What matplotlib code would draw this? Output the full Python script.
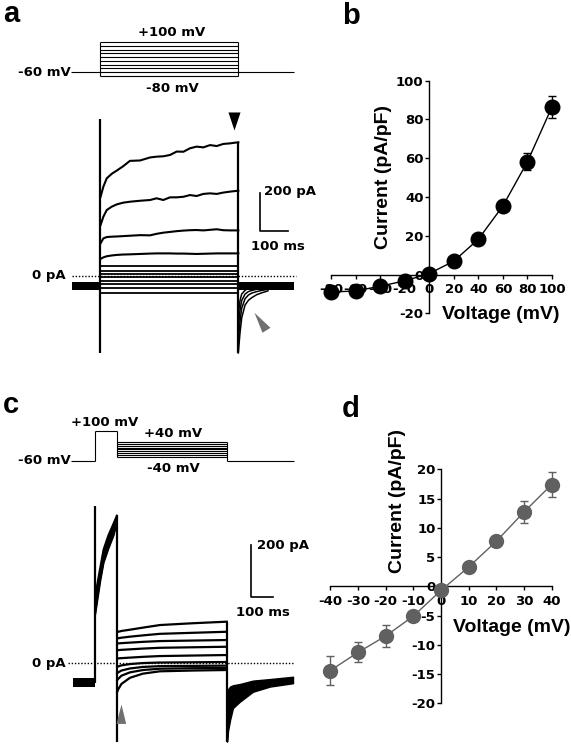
import matplotlib
matplotlib.use('Agg')
import matplotlib.pyplot as plt

W, H, DPI = 571, 746, 100
plt.rcParams['axes.unicode_minus'] = False
plt.rcParams['font.family'] = ['DejaVu Sans']
plt.rcParams['font.weight'] = 'bold'

# ---------------- data ----------------
# panel a protocol (mV) and timing (ms)
prot_a_levels = [-80, -60, -40, -20, 0, 20, 40, 60, 80, 100]
prot_a_hold = -60
prot_a_step = (0, 494)
prot_a_span = (-104, 693)

# panel a traces (pA vs ms)
t_a = [2, 12, 24, 42, 60, 83, 107, 143, 179, 202, 226, 250, 274, 298, 321, 345, 369, 393, 417, 440, 464, 494]
I_a_100 = [417, 470, 514, 538, 555, 578, 606, 608, 624, 628, 630, 637, 655, 654, 672, 681, 677, 689, 684, 695, 698, 704]
I_a_80 = [268, 312, 347, 365, 377, 386, 391, 396, 400, 409, 400, 414, 414, 417, 426, 421, 432, 435, 432, 439, 444, 449]
I_a_60 = [172, 198, 205, 207, 208, 210, 212, 215, 214, 222, 228, 232, 236, 239, 241, 242, 240, 243, 246, 241, 240, 240]
I_a_40 = [90, 98, 104, 108, 111, 113, 114, 116, 118, 119, 119, 119, 118, 118, 117, 116, 117, 118, 119, 119, 119, 119]
I_a_low_levels = [53, 26, 11, -5, -24, -42, -63, -87]
I_a_hold_band = (-74, -32)
I_a_cap = (-405, 826)
t_a_tail = [494, 500, 506, 518, 530, 542, 560, 577, 600]
I_a_tails = [
    [-405, -300, -221, -153, -128, -114, -98, -89, -78],
    [-340, -240, -170, -120, -100, -90, -82, -76, -70],
    [-270, -180, -130, -95, -82, -76, -70, -65, -60],
    [-200, -130, -95, -75, -65, -60, -56, -53, -50],
]
t_a_dot = (-100, 700)

# panel c protocol
prot_c_levels = [-40, -30, -20, -10, 0, 10, 20, 30, 40]
prot_c_hold = -60
prot_c_pre = 100
prot_c_times = (-109, 0, 100, 600, 905)

# panel c traces
t_c_pre = [0, 23, 38, 60, 83, 99]
I_c_pre_hi = [260, 370, 440, 495, 540, 572]
I_c_pre_lo = [190, 320, 390, 445, 495, 545]
I_c_hold_band = (-92, -57)
I_c_cap_top = 607
I_c_cap_low = -303
t_c_step = [101, 106, 120, 159, 218, 295, 445, 599]
I_c_steps = [
    [122, 122, 125, 130, 138, 148, 155, 161],
    [97, 97, 99, 103, 108, 114, 118, 122],
    [77, 77, 78, 80, 83, 86, 88, 90],
    [51, 51, 52, 54, 57, 60, 62, 64],
    [19, 19, 20, 22, 25, 28, 30, 32],
    [-13, -12, -8, -3, 1, 3, 4, 5],
    [-39, -35, -28, -20, -14, -11, -10, -9],
    [-65, -60, -48, -35, -26, -21, -19, -18],
    [-110, -100, -80, -56, -40, -31, -28, -26],
]
t_c_tail = [600, 605, 614, 627, 659, 718, 795, 900]
I_c_tail_hi = [-120, -100, -90, -85, -80, -67, -61, -52]
I_c_tail_lo = [-303, -260, -219, -173, -148, -110, -90, -77]
t_c_dot = (-123, 900)

# scale bars
bar_pA, bar_ms = 200, 100
bar_a_origin = (571, 237)
bar_c_origin = (708, 258)

# arrowheads (anchor positions in trace data units)
arrow_a_black = (479, 816)
arrow_a_gray = (579, -251)
arrow_c_gray = (118, -207)

# panel b IV
V_b = [-80, -60, -40, -20, 0, 20, 40, 60, 80, 100]
I_b = [-9, -8.5, -6, -3.3, 0.5, 6.9, 18.2, 35.4, 58.2, 86.5]
E_b = [1, 1, 1, 0.8, 0.5, 1, 1.5, 2, 4.5, 5.5]
xt_b = [-80, -60, -40, -20, 0, 20, 40, 60, 80, 100]
yt_b = [-20, 0, 20, 40, 60, 80, 100]

# panel d IV
V_d = [-40, -30, -20, -10, 0, 10, 20, 30, 40]
I_d = [-14.4, -11.3, -8.5, -5.1, -0.7, 3.3, 7.7, 12.7, 17.4]
E_d = [2.5, 1.7, 1.8, 0.7, 0.3, 0.5, 0.5, 1.85, 2.1]
xt_d = [-40, -30, -20, -10, 0, 10, 20, 30, 40]
yt_d = [-20, -15, -10, -5, 0, 5, 10, 15, 20]

# ---------------- figure ----------------
fig = plt.figure(figsize=(W / DPI, H / DPI), dpi=DPI)


def px_axes(x0, y0, x1, y1):
    return fig.add_axes([x0 / W, 1 - y1 / H, (x1 - x0) / W, (y1 - y0) / H])


def mapped_axes(x0, y0, x1, y1, xo, xs, yo, ys):
    ax = px_axes(x0, y0, x1, y1)
    ax.set_xlim((x0 - xo) / xs, (x1 - xo) / xs)
    ax.set_ylim((yo - y1) / ys, (yo - y0) / ys)
    ax.axis('off')
    return ax


def ftext(x, y, s, **kw):
    kw.setdefault('fontsize', 9.5)
    kw.setdefault('fontweight', 'bold')
    fig.text(x / W, 1 - y / H, s, **kw)


LIB = dict(family='Liberation Sans', fontweight='bold')
K = 'black'
PLW = 0.8
DOT = (0, (1, 1.3))

# ---- panel a protocol ----
pa = mapped_axes(55, 30, 300, 82, 100, 0.28, 60.9, 0.189)
pa.hlines(prot_a_levels, *prot_a_step, color=K, lw=PLW)
pa.vlines(prot_a_step, min(prot_a_levels), max(prot_a_levels), color=K, lw=PLW)
pa.hlines(prot_a_hold, prot_a_span[0], prot_a_step[0], color=K, lw=PLW)
pa.hlines(prot_a_hold, prot_a_step[1], prot_a_span[1], color=K, lw=PLW)

# ---- panel a traces ----
ta = mapped_axes(55, 100, 300, 360, 100, 0.28, 276, 0.19)
ta.hlines(0, *t_a_dot, color=K, lw=1, linestyles=[DOT])
ta.fill_between([prot_a_span[0] + 4, 0], *I_a_hold_band, color=K, lw=0)
ta.fill_between([prot_a_step[1], t_a_dot[1] - 7], *I_a_hold_band, color=K, lw=0)
for tr in (I_a_100, I_a_80, I_a_60, I_a_40):
    ta.plot(t_a, tr, color=K, lw=1.5)
ta.hlines(I_a_low_levels, 0, prot_a_step[1], color=K, lw=1.3)
for tr in I_a_tails:
    ta.plot(t_a_tail, tr, color=K, lw=1.1)
ta.vlines(0, *I_a_cap, color=K, lw=1.6)
ta.vlines(prot_a_step[1], I_a_cap[0], I_a_100[-1], color=K, lw=1.6)
# scale bar a
bx, by = bar_a_origin
ta.plot([bx, bx, bx + bar_ms], [by + bar_pA, by, by], color=K, lw=1.2)
# arrowheads a
ta.plot(*arrow_a_black, marker=[(-6, 9), (6, 9), (0, -9)], ms=13, color=K, mew=0)
ta.plot(*arrow_a_gray, marker=[(-8, 11.7), (8, -3.3), (0, -8.3)], ms=16.8,
        color='#707070', mew=0)

# ---- panel c protocol ----
pc = mapped_axes(55, 420, 300, 470, 95, 0.22, 449.45, 0.1875)
t0, t1, t2, t3, t4 = prot_c_times
pc.hlines(prot_c_hold, t0, t1, color=K, lw=PLW)
pc.vlines(t1, prot_c_hold, prot_c_pre, color=K, lw=PLW)
pc.hlines(prot_c_pre, t1, t2, color=K, lw=PLW)
pc.vlines(t2, min(prot_c_levels), prot_c_pre, color=K, lw=PLW)
pc.hlines(prot_c_levels, t2, t3, color=K, lw=PLW)
pc.vlines(t3, prot_c_hold, max(prot_c_levels), color=K, lw=PLW)
pc.hlines(prot_c_hold, t3, t4, color=K, lw=PLW)

# ---- panel c traces ----
tc = mapped_axes(55, 490, 300, 746, 95, 0.22, 663.3, 0.2585)
tc.hlines(0, *t_c_dot, color=K, lw=1, linestyles=[DOT])
tc.fill_between([-100, 0], *I_c_hold_band, color=K, lw=0)
tc.fill_between(t_c_pre, I_c_pre_lo, I_c_pre_hi, color=K, lw=1)
tc.plot(t_c_pre, I_c_pre_hi, color=K, lw=1.2)
tc.plot(t_c_pre, I_c_pre_lo, color=K, lw=1.2)
for tr in I_c_steps:
    tc.plot(t_c_step, tr, color=K, lw=1.6)
tc.fill_between(t_c_tail, I_c_tail_lo, I_c_tail_hi, color=K, lw=1)
tc.vlines(0, sum(I_c_hold_band) / 2, I_c_cap_top, color=K, lw=1.6)
tc.vlines(prot_c_pre, I_c_cap_low, I_c_pre_hi[-1], color=K, lw=1.6)
tc.vlines(t3, I_c_cap_low, I_c_steps[0][-1], color=K, lw=1.6)
bx, by = bar_c_origin
tc.plot([bx, bx, bx + bar_ms], [by + bar_pA, by, by], color=K, lw=1.2)
tc.plot(*arrow_c_gray, marker=[(0, 12.9), (-5, -6.4), (4.7, -6.4)], ms=18.6,
        color='#707070', mew=0)

# ---- texts panels a / c ----
ftext(3, 22, 'a', fontsize=21, va='baseline', ha='left', **LIB)
ftext(342, 24, 'b', fontsize=21, va='baseline', ha='left', **LIB)
ftext(3, 413, 'c', fontsize=21, va='baseline', ha='left', **LIB)
ftext(342, 417, 'd', fontsize=21, va='baseline', ha='left', **LIB)

ftext(172, 33, '+100 mV', ha='center', va='center')
ftext(172, 88, '-80 mV', ha='center', va='center')
ftext(71, 72, '-60 mV', ha='right', va='center')
ftext(66, 276, '0 pA', ha='right', va='center')
ftext(264, 192, '200 pA', ha='left', va='center')
ftext(278, 247, '100 ms', ha='center', va='center')

ftext(105, 422, '+100 mV', ha='center', va='center')
ftext(173, 433, '+40 mV', ha='center', va='center')
ftext(173, 469, '-40 mV', ha='center', va='center')
ftext(71, 460, '-60 mV', ha='right', va='center')
ftext(66, 663, '0 pA', ha='right', va='center')
ftext(257, 545, '200 pA', ha='left', va='center')
ftext(263, 612, '100 ms', ha='center', va='center')


# ---- IV panels ----
def iv_axes(ax, xt, yt):
    for s in ('top', 'right'):
        ax.spines[s].set_visible(False)
    for s in ('left', 'bottom'):
        ax.spines[s].set_position(('data', 0))
        ax.spines[s].set_linewidth(1.0)
    ax.set_xticks(xt)
    ax.set_yticks(yt)
    ax.tick_params(direction='out', length=3, width=1, labelsize=9.5)
    ax.tick_params(axis='x', pad=3)
    ax.tick_params(axis='y', pad=1)
    ax.patch.set_alpha(0)


ab = px_axes(331, 80.7, 552, 313.3)
ab.set_xlim(-80, 100)
ab.set_ylim(-20, 100)
ab.errorbar(V_b, I_b, yerr=E_b, fmt='none', ecolor=K, elinewidth=1, capsize=3, clip_on=False)
ab.plot(V_b, I_b, color=K, lw=1, clip_on=False, zorder=3)
ab.plot(V_b, I_b, 'o', color=K, ms=10.5, clip_on=False, zorder=4)
iv_axes(ab, xt_b, yt_b)
ftext(501, 315, 'Voltage (mV)', fontsize=14, ha='center', va='center', **LIB)
ftext(383, 177, 'Current (pA/pF)', fontsize=14, ha='center', va='center', rotation=90, **LIB)

G = '#606060'
ad = px_axes(330.3, 469.3, 551.7, 703.3)
ad.set_xlim(-40, 40)
ad.set_ylim(-20, 20)
ad.errorbar(V_d, I_d, yerr=E_d, fmt='none', ecolor=G, elinewidth=1, capsize=3, clip_on=False)
ad.plot(V_d, I_d, color=G, lw=1, clip_on=False, zorder=3)
ad.plot(V_d, I_d, 'o', color=G, ms=10, clip_on=False, zorder=4)
iv_axes(ad, xt_d, yt_d)
ftext(512, 627, 'Voltage (mV)', fontsize=14, ha='center', va='center', **LIB)
ftext(397, 501, 'Current (pA/pF)', fontsize=14, ha='center', va='center', rotation=90, **LIB)

fig.savefig('out.png', dpi=DPI)
